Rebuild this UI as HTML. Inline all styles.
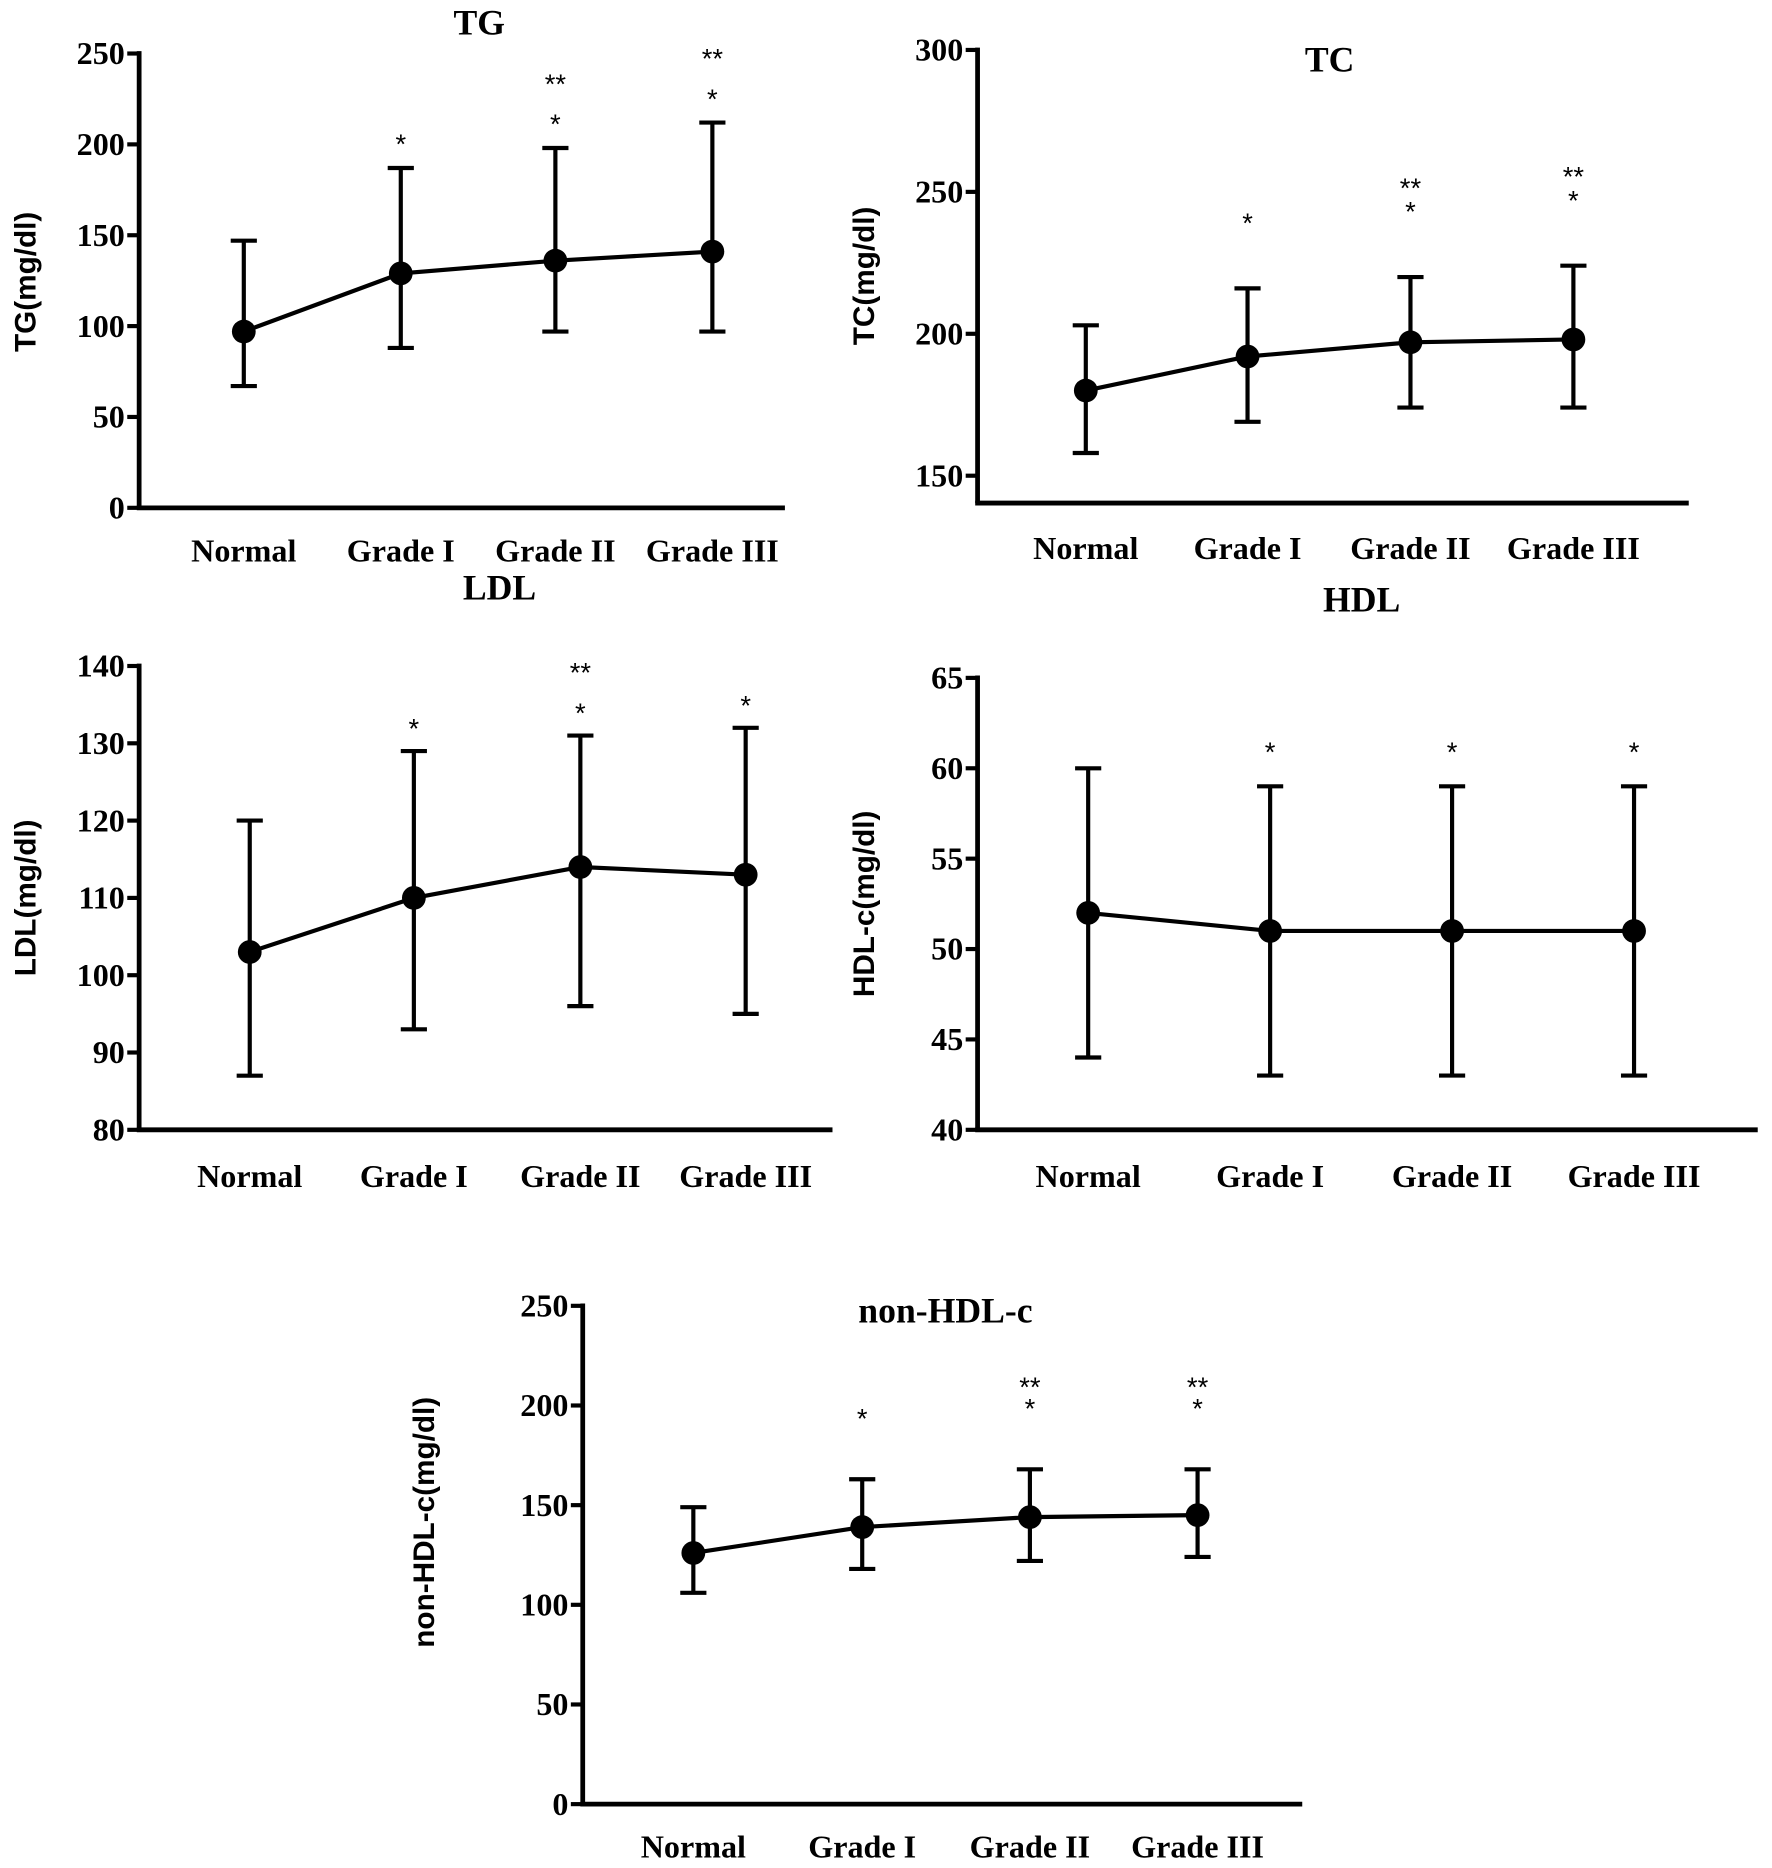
<!DOCTYPE html>
<html><head><meta charset="utf-8"><style>
html,body{margin:0;padding:0;background:#fff;}
svg{display:block;}
.tk{font-family:"Liberation Serif",serif;font-weight:bold;font-size:27px;}
.cat{font-family:"Liberation Serif",serif;font-weight:bold;font-size:27px;}
.ttl{font-family:"Liberation Serif",serif;font-weight:bold;font-size:30px;}
.yl{font-family:"Liberation Sans",sans-serif;font-weight:bold;font-size:25px;}
.st{font-family:"Liberation Sans",sans-serif;font-size:23px;}
</style></head><body>
<svg id="fig" width="1772" height="1868" viewBox="0 0 1490 1570.7" preserveAspectRatio="none" xmlns="http://www.w3.org/2000/svg"></svg>
<script>
const categories = ["Normal","Grade I","Grade II","Grade III"];
const tgMean = [97,129,136,141];
const tgLow = [67,88,97,97];
const tgHigh = [147,187,198,212];
const tgTicks = [0,50,100,150,200,250];
const tgStars = [[],["*"],["*","**"],["*","**"]];
const tcMean = [180,192,197,198];
const tcLow = [158,169,174,174];
const tcHigh = [203,216,220,224];
const tcTicks = [150,200,250,300];
const tcStars = [[],["*"],["*","**"],["*","**"]];
const ldlMean = [103,110,114,113];
const ldlLow = [87,93,96,95];
const ldlHigh = [120,129,131,132];
const ldlTicks = [80,90,100,110,120,130,140];
const ldlStars = [[],["*"],["*","**"],["*"]];
const hdlMean = [52,51,51,51];
const hdlLow = [44,43,43,43];
const hdlHigh = [60,59,59,59];
const hdlTicks = [40,45,50,55,60,65];
const hdlStars = [[],["*"],["*"],["*"]];
const nhMean = [126,139,144,145];
const nhLow = [106,118,122,124];
const nhHigh = [149,163,168,168];
const nhTicks = [0,50,100,150,200,250];
const nhStars = [[],["*"],["*","**"],["*","**"]];

const NS="http://www.w3.org/2000/svg";
const svg=document.getElementById('fig');
function mk(tag,attrs,parent,txt){const e=document.createElementNS(NS,tag);for(const k in attrs)e.setAttribute(k,attrs[k]);if(txt!==undefined)e.textContent=txt;(parent||svg).appendChild(e);return e;}

function panel(p,mean,low,high,ticks,stars){
  const g=mk('g',{});
  
  
  const vmin=ticks[0],vmax=ticks[ticks.length-1];
  const y=v=>p.yb-(v-vmin)/(vmax-vmin)*(p.yb-p.yt);
  const x=i=>p.cx[i];
  const ya=mk('line',{x1:p.ax,y1:p.yt-2,x2:p.ax,y2:p.xaxY,stroke:'#000','stroke-width':4},g);
  
  
  const xa=mk('line',{x1:p.ax-2,y1:p.xaxY,x2:p.xr,y2:p.xaxY,stroke:'#000','stroke-width':4},g);
  
  
  ticks.forEach(t=>{
    mk('line',{x1:p.ax-10,y1:y(t),x2:p.ax,y2:y(t),stroke:'#000','stroke-width':3.5},g);
    const tl=mk('text',{x:p.ax-12,y:y(t)+9,'text-anchor':'end',class:'tk'},g,String(t));
    
    
  });
  categories.forEach((c,i)=>{
    const cl=mk('text',{x:x(i),y:p.catY,'text-anchor':'middle',class:'cat'},g,c);
    
    
  });
  const tt=mk('text',{x:p.tx,y:p.ty,'text-anchor':'middle',class:'ttl'},g,p.title);
  
  
  const yl=mk('text',{x:0,y:0,'text-anchor':'middle',class:'yl',transform:`translate(${p.ylx},${p.yly}) rotate(-90)`},g,p.ylabel);
  
  
  mean.forEach((m,i)=>{
    const eb=mk('path',{d:`M${x(i)},${y(low[i])}V${y(high[i])}M${x(i)-11},${y(low[i])}h22M${x(i)-11},${y(high[i])}h22`,stroke:'#000','stroke-width':3.5,fill:'none'},g);
    
    
  });
  const ln=mk('polyline',{points:mean.map((m,i)=>x(i)+','+y(m)).join(' '),stroke:'#000','stroke-width':3.5,fill:'none'},g);
  
  
  mean.forEach((m,i)=>{
    const pt=mk('circle',{cx:x(i),cy:y(m),r:10,fill:'#000'},g);
    
    
    stars[i].forEach((s,k)=>{
      const sy=y(high[i])-p.starGap-k*p.starStep;
      const st=mk('text',{x:x(i),y:sy+14,'text-anchor':'middle',class:'st'},g,s);
      
      
    });
  });
}
panel({name:'tg',title:'TG',ylabel:'TG(mg/dl)',ax:117,yt:45,yb:427,xaxY:427,xr:660,cx:[205,337,467,599],catY:472,tx:403,ty:29,ylx:30,yly:237,starGap:26,starStep:34},tgMean,tgLow,tgHigh,tgTicks,tgStars);
panel({name:'tc',title:'TC',ylabel:'TC(mg/dl)',ax:822,yt:42,yb:400,xaxY:423,xr:1420,cx:[913,1049,1186,1323],catY:470,tx:1118,ty:60,ylx:735,yly:232,starGap:61,starStep:20},tcMean,tcLow,tcHigh,tcTicks,tcStars);
panel({name:'ldl',title:'LDL',ylabel:'LDL(mg/dl)',ax:117,yt:560,yb:950,xaxY:950,xr:700,cx:[210,348,488,627],catY:998,tx:420,ty:504,ylx:30,yly:755,starGap:25,starStep:34},ldlMean,ldlLow,ldlHigh,ldlTicks,ldlStars);
panel({name:'hdl',title:'HDL',ylabel:'HDL-c(mg/dl)',ax:822,yt:570,yb:950,xaxY:950,xr:1478,cx:[915,1068,1221,1374],catY:998,tx:1145,ty:514,ylx:735,yly:760,starGap:35,starStep:20},hdlMean,hdlLow,hdlHigh,hdlTicks,hdlStars);
panel({name:'non-hdl',title:'non-HDL-c',ylabel:'non-HDL-c(mg/dl)',ax:490,yt:1098,yb:1517,xaxY:1517,xr:1095,cx:[583,725,866,1007],catY:1562,tx:795,ty:1112,ylx:365,yly:1280,starGap:57,starStep:18},nhMean,nhLow,nhHigh,nhTicks,nhStars);
</script>
</body></html>
